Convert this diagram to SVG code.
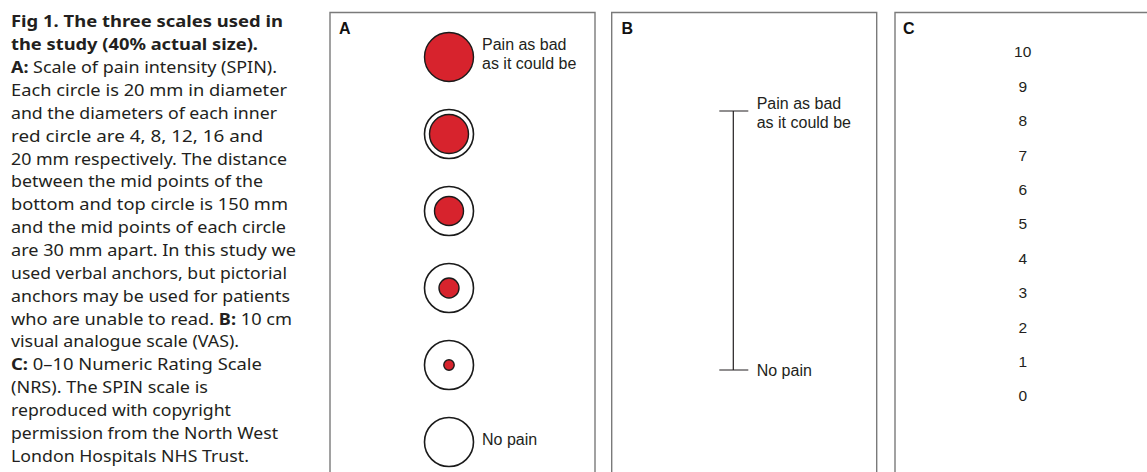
<svg xmlns="http://www.w3.org/2000/svg" width="1147" height="472" viewBox="0 0 1147 472">
<style>
.cap{font-family:"Noto Sans","Liberation Sans",sans-serif;font-size:16px;fill:#231f20}
.b{font-weight:bold}
.lbl{font-family:"Liberation Sans",Arial,sans-serif;font-size:16px;fill:#231f20}
.num{font-family:"Liberation Sans",Arial,sans-serif;font-size:15.5px;fill:#231f20}
.pl{font-family:"Liberation Sans",Arial,sans-serif;font-size:16px;font-weight:bold;fill:#111}
.panel{fill:none;stroke:#7a7a7a;stroke-width:1.4}
.ring{fill:#fff;stroke:#1a1a1a;stroke-width:1.6}
.red{fill:#d7232d;stroke:#1a1a1a;stroke-width:1.4}
.ln{stroke:#231f20;stroke-width:1.2;fill:none}
</style>
<rect width="1147" height="472" fill="#fff"/>
<g id="caption" class="cap">
<text x="11" y="27.3" textLength="272" lengthAdjust="spacingAndGlyphs"><tspan class="b">Fig 1. The three scales used in</tspan></text>
<text x="11" y="50.2" textLength="247" lengthAdjust="spacingAndGlyphs"><tspan class="b">the study (40% actual size).</tspan></text>
<text x="11" y="73" textLength="266" lengthAdjust="spacingAndGlyphs"><tspan class="b">A:</tspan> Scale of pain intensity (SPIN).</text>
<text x="11" y="95.9" textLength="276" lengthAdjust="spacingAndGlyphs">Each circle is 20 mm in diameter</text>
<text x="11" y="118.7" textLength="266" lengthAdjust="spacingAndGlyphs">and the diameters of each inner</text>
<text x="11" y="141.6" textLength="252" lengthAdjust="spacingAndGlyphs">red circle are 4, 8, 12, 16 and</text>
<text x="11" y="164.5" textLength="276" lengthAdjust="spacingAndGlyphs">20 mm respectively. The distance</text>
<text x="11" y="187.3" textLength="252" lengthAdjust="spacingAndGlyphs">between the mid points of the</text>
<text x="11" y="210.2" textLength="277" lengthAdjust="spacingAndGlyphs">bottom and top circle is 150 mm</text>
<text x="11" y="233" textLength="275" lengthAdjust="spacingAndGlyphs">and the mid points of each circle</text>
<text x="11" y="255.9" textLength="285" lengthAdjust="spacingAndGlyphs">are 30 mm apart. In this study we</text>
<text x="11" y="278.8" textLength="276" lengthAdjust="spacingAndGlyphs">used verbal anchors, but pictorial</text>
<text x="11" y="301.6" textLength="279" lengthAdjust="spacingAndGlyphs">anchors may be used for patients</text>
<text x="11" y="324.5" textLength="281" lengthAdjust="spacingAndGlyphs">who are unable to read. <tspan class="b">B:</tspan> 10 cm</text>
<text x="11" y="347.3" textLength="228" lengthAdjust="spacingAndGlyphs">visual analogue scale (VAS).</text>
<text x="11" y="370.2" textLength="251" lengthAdjust="spacingAndGlyphs"><tspan class="b">C:</tspan> 0–10 Numeric Rating Scale</text>
<text x="11" y="393.1" textLength="197" lengthAdjust="spacingAndGlyphs">(NRS). The SPIN scale is</text>
<text x="11" y="415.9" textLength="220" lengthAdjust="spacingAndGlyphs">reproduced with copyright</text>
<text x="11" y="438.8" textLength="267" lengthAdjust="spacingAndGlyphs">permission from the North West</text>
<text x="11" y="461.7" textLength="238" lengthAdjust="spacingAndGlyphs">London Hospitals NHS Trust.</text>
</g>
<g id="panelA">
<path class="panel" d="M330,480 V12.5 H595 V480"/>
<text class="pl" x="339" y="34">A</text>
<g id="a10"><circle class="red" cx="449" cy="57" r="24.5"/></g>
<g id="a8"><circle class="ring" cx="449" cy="134" r="24.5"/><circle class="red" cx="449" cy="134" r="19.5"/></g>
<g id="a6"><circle class="ring" cx="449" cy="211" r="24.5"/><circle class="red" cx="449" cy="211" r="14.5"/></g>
<g id="a4"><circle class="ring" cx="449" cy="288" r="24.5"/><circle class="red" cx="449" cy="288" r="10"/></g>
<g id="a2"><circle class="ring" cx="449" cy="365" r="24.5"/><circle class="red" cx="449" cy="365" r="5.2"/></g>
<g id="a0"><circle class="ring" cx="449" cy="442" r="24.5"/></g>
<text class="lbl" x="482" y="50">Pain as bad</text>
<text class="lbl" x="482" y="68.7">as it could be</text>
<text class="lbl" x="482" y="445">No pain</text>
</g>
<g id="panelB">
<path class="panel" d="M611.7,480 V12.5 H876.7 V480"/>
<text class="pl" x="621.5" y="34">B</text>
<path class="ln" d="M733.3,111 V370 M719.3,111 H748.3 M719.3,370 H748.3"/>
<text class="lbl" x="756.7" y="109">Pain as bad</text>
<text class="lbl" x="756.7" y="128">as it could be</text>
<text class="lbl" x="756.7" y="375.5">No pain</text>
</g>
<g id="panelC">
<path class="panel" d="M895,480 V12.5 H1150"/>
<text class="pl" x="903" y="34">C</text>
<g class="num" text-anchor="middle">
<text x="1022.7" y="57.3">10</text>
<text x="1022.7" y="91.7">9</text>
<text x="1022.7" y="126.1">8</text>
<text x="1022.7" y="160.5">7</text>
<text x="1022.7" y="194.9">6</text>
<text x="1022.7" y="229.3">5</text>
<text x="1022.7" y="263.7">4</text>
<text x="1022.7" y="298.1">3</text>
<text x="1022.7" y="332.5">2</text>
<text x="1022.7" y="366.9">1</text>
<text x="1022.7" y="401.3">0</text>
</g>
</g>
<g id="connectors"></g>
</svg>
